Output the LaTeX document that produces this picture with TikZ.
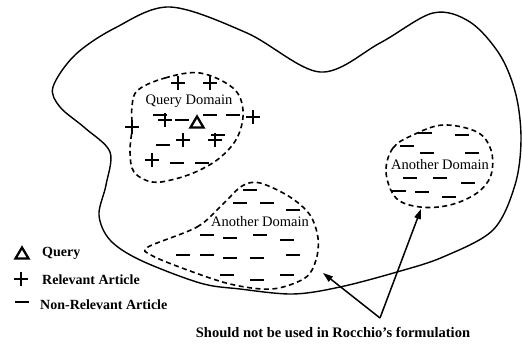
\documentclass[tikz,border=0pt]{standalone}
\usepackage{fontspec}
\setmainfont{Liberation Serif}
\usetikzlibrary{arrows.meta}

\begin{document}
\begin{tikzpicture}[x=1pt, y=-1pt,
  region/.style={line width=1.4pt},
  domainline/.style={line width=1.6pt, dash pattern=on 5pt off 3.5pt},
  lbl/.style={inner sep=0pt, font=\fontsize{14.5}{15}\selectfont},
  legendtext/.style={inner sep=0pt, anchor=west, font=\fontsize{14}{15}\selectfont\bfseries},
  pointer/.style={line width=1.5pt, -{Triangle[length=10pt,width=6.5pt]}},
  plus/.pic={\draw[line width=2.8pt] (-7,0) -- (7,0) (0,-7) -- (0,7);},
  minus/.pic={\draw[line width=2.5pt] (-7,0) -- (7,0);},
  query/.pic={\draw[line width=2.3pt, line join=miter] (-6.5,5.5) -- (0,-5.5) -- (6.5,5.5) -- cycle;}
]
\useasboundingbox (0,0) rectangle (522,343);

% document space
\draw[region] plot[smooth cycle, tension=0.55] coordinates {
  (53,87) (75,55) (115,28) (170,7) (247,33) (320,72) (380,43) (433,13)
  (470,22) (500,55) (516,95) (521,140) (515,185) (493,230) (443,257)
  (397,272) (340,287) (293,294) (240,289) (200,283) (140,260) (110,240)
  (99,215) (106,185) (110,152) (85,128) (60,107)};

% query domain
\draw[domainline] plot[smooth cycle, tension=0.6] coordinates {
  (138,90) (165,78) (200,73) (233,88) (243,110) (238,136) (222,156)
  (200,170) (175,179) (152,182) (134,172) (130,152) (132,128) (132,106)};

% lower domain
\draw[domainline] plot[smooth cycle, tension=0.55] coordinates {
  (148,247) (197,227) (222,205) (242,186) (260,183) (290,197) (310,215)
  (318,238) (316,260) (305,278) (272,289) (230,284) (182,268) (151,255)};

% right domain
\draw[domainline] plot[smooth cycle, tension=0.6] coordinates {
  (386,172) (393,148) (413,135) (443,125) (477,132) (491,150) (491,175)
  (477,193) (450,205) (420,207) (396,198)};

% labels of the domains
\node[lbl] (qd) at (189,101) {Query Domain};
\node[lbl] (ad1) at (260,222) {Another Domain};
\node[lbl] (ad2) at (440,165) {Another Domain};

% query and relevant articles
\pic at (197,122) {query};
\foreach \p in {(178,83),(210,83),(253,117),(132,127),(165,120),(183,140),(215,140),(152,160)}
  \pic at \p {plus};

% non-relevant articles
\foreach \p in {(160,115),(182,120),(210,115),(233,115),(163,145),(218,135),(177,163),(202,163),
  % lower domain
  (250,190),(240,203),(267,203),(293,210),
  (207,235),(230,238),(260,235),(287,240),
  (183,255),(207,255),(230,258),(257,258),(293,255),
  (227,275),(257,280),(287,275),
  % right domain
  (425,133),(462,135),(407,146),(427,153),(472,153),
  (410,178),(440,178),(468,183),(399,191),(422,192),(449,197)}
  \pic at \p {minus};

% pointers
\node[inner sep=0pt, font=\fontsize{14.5}{15}\selectfont\bfseries] (note) at (333,332)
  {Should not be used in Rocchio's formulation};
\coordinate (v) at (380,318);
\coordinate (tipA) at (323,273);
\coordinate (tipB) at (421,209);
\draw[pointer] (v) -- (tipA);
\draw[pointer] (v) -- (tipB);

% legend
\pic at (22,253) {query};
\node[legendtext] (lq) at (42,253) {Query};
\pic at (21,279) {plus};
\node[legendtext] (lr) at (42,280) {Relevant Article};
\pic at (22,302) {minus};
\node[legendtext] (ln) at (40,305) {Non-Relevant Article};
\end{tikzpicture}
\end{document}
